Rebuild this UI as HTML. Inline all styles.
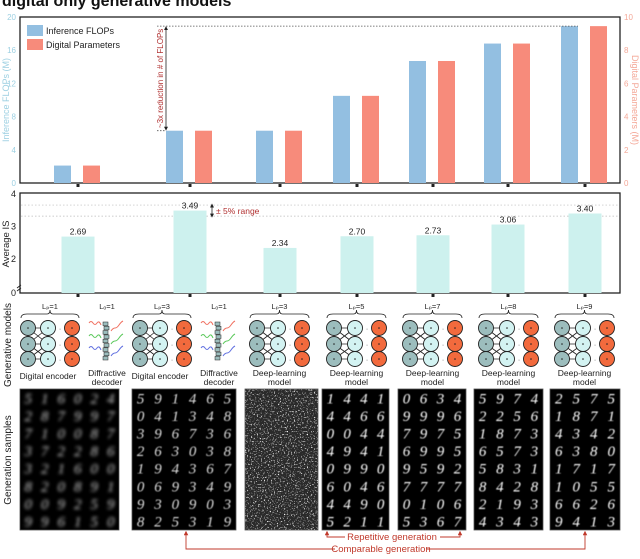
<!DOCTYPE html>
<html><head><meta charset="utf-8"><style>
html,body{margin:0;padding:0;background:#fff;width:640px;height:559px;overflow:hidden}
svg{display:block;font-family:"Liberation Sans",sans-serif}
</style></head><body>
<svg id="fig" width="640" height="559" viewBox="0 0 640 559">
<defs>
<filter id="blur1"><feGaussianBlur stdDeviation="1.6"/></filter>
<filter id="blur2"><feGaussianBlur stdDeviation="0.5"/></filter>
<filter id="noise" x="0" y="0" width="100%" height="100%"><feTurbulence type="fractalNoise" baseFrequency="0.7" numOctaves="2" seed="3"/><feColorMatrix type="matrix" values="0 0 0 0 1  0 0 0 0 1  0 0 0 0 1  0 0 0 5 -2.9"/></filter>
<marker id="ah" viewBox="0 0 10 10" refX="5" refY="5" markerWidth="5" markerHeight="5" orient="auto-start-reverse"><path d="M0,0 L10,5 L0,10 z" fill="#222"/></marker>
<marker id="ahr" viewBox="0 0 10 10" refX="5" refY="5" markerWidth="5" markerHeight="5" orient="auto-start-reverse"><path d="M0,0 L10,5 L0,10 z" fill="#c0392b"/></marker>
</defs>
<text x="2" y="6" font-size="16" font-weight="bold" fill="#111">digital only generative models</text>
<g id="topg"></g>
<g id="mid"></g>
<g id="bot"></g>
</svg>
<script>
const categories = ["Lp1-Lo1","Lp3-Lo1","DL-L3","DL-L5","DL-L7","DL-L8","DL-L9"];
const flops = [2.1, 6.3, 6.3, 10.5, 14.7, 16.8, 18.9];
const params = [1.05, 3.15, 3.15, 5.25, 7.35, 8.4, 9.45];
const isValues = [2.69, 3.49, 2.34, 2.70, 2.73, 3.06, 3.40];
const isLabels = ["2.69","3.49","2.34","2.70","2.73","3.06","3.40"];
const leftTicks = [0,4,8,12,16,20];
const rightTicks = [0,2,4,6,8,10];
const isTicks = [0,2,3,4];
const lpLabels = ["L\u209a=1","L\u209a=3","L\u209a=3","L\u209a=5","L\u209a=7","L\u209a=8","L\u209a=9"];

const NS="http://www.w3.org/2000/svg";
function mk(parent,tag,attrs,text){const e=document.createElementNS(NS,tag);for(const k in attrs)e.setAttribute(k,attrs[k]);if(text!==undefined)e.textContent=text;parent.appendChild(e);return e;}
const catX=[78,190,280,357,433,508,585];
const xC=i=>catX[i];
const Y0=183, YT=17;
const yL=v=>Y0-v*((Y0-YT)/20);
const yR=v=>Y0-v*((Y0-YT)/10);
const topG=document.getElementById('topg');
let e;
e=mk(topG,'rect',{x:20,y:YT,width:600,height:Y0-YT,fill:'none',stroke:'#222','stroke-width':1.3});

leftTicks.forEach(t=>{e=mk(topG,'text',{x:16,y:yL(t)+3,'font-size':8,fill:'#9dd0e2','text-anchor':'end'},t);
});
rightTicks.forEach(t=>{e=mk(topG,'text',{x:624,y:yR(t)+3,'font-size':8,fill:'#f4a898'},t);
});
e=mk(topG,'text',{x:0,y:0,'font-size':9,fill:'#9dd0e2','text-anchor':'middle',transform:'translate(9,100) rotate(-90)'},'Inference FLOPs (M)');

e=mk(topG,'text',{x:0,y:0,'font-size':9,fill:'#f4a898','text-anchor':'middle',transform:'translate(632,100) rotate(90)'},'Digital Parameters (M)');

categories.forEach((c,i)=>{
 e=mk(topG,'rect',{x:xC(i)-24,y:yL(flops[i]),width:17,height:Y0-yL(flops[i]),fill:'#93bfe1'});
 
 e=mk(topG,'rect',{x:xC(i)+5,y:yR(params[i]),width:17,height:Y0-yR(params[i]),fill:'#f78b7b'});
 
 e=mk(topG,'rect',{x:xC(i)-1.5,y:Y0+1,width:3,height:3,fill:'#222'});
 
});
e=mk(topG,'rect',{x:27,y:25,width:16,height:11,fill:'#93bfe1'});
e=mk(topG,'text',{x:46,y:34,'font-size':9,fill:'#222'},'Inference FLOPs');
e=mk(topG,'rect',{x:27,y:39,width:16,height:11,fill:'#f78b7b'});
e=mk(topG,'text',{x:46,y:48,'font-size':9,fill:'#222'},'Digital Parameters');
const yHi=yL(flops[6]), yLo=yL(flops[1]);
e=mk(topG,'line',{x1:157,y1:yHi,x2:xC(6)-7,y2:yHi,stroke:'#555','stroke-dasharray':'1.5,1.5','stroke-width':0.8});
e=mk(topG,'line',{x1:157,y1:yLo,x2:xC(1)-24,y2:yLo,stroke:'#555','stroke-dasharray':'1.5,1.5','stroke-width':0.8});
e=mk(topG,'line',{x1:166,y1:yHi+2,x2:166,y2:yLo-2,stroke:'#222','stroke-width':0.8,'marker-start':'url(#ah)','marker-end':'url(#ah)'});
e=mk(topG,'text',{x:0,y:0,'font-size':8,fill:'#b03030','text-anchor':'middle',transform:`translate(163,${(yHi+yLo)/2}) rotate(-90)`},'~3x reduction in # of FLOPs');

const mid=document.getElementById('mid');
const M0=293;
const yI=v=>v>=2?259-(v-2)*32.5:M0-(v)*17;
e=mk(mid,'rect',{x:20,y:193,width:600,height:M0-193,fill:'none',stroke:'#222','stroke-width':1.3});
[3.66,3.32].forEach(v=>{e=mk(mid,'line',{x1:21,x2:619,y1:yI(v),y2:yI(v),stroke:'#bbb','stroke-dasharray':'1.5,2','stroke-width':0.7});});
isTicks.forEach(t=>{e=mk(mid,'text',{x:16,y:(t===0?M0:yI(t))+3,'font-size':9,fill:'#222','text-anchor':'end'},t);});
e=mk(mid,'text',{x:0,y:0,'font-size':9.5,fill:'#222','text-anchor':'middle',transform:'translate(9,244) rotate(-90)'},'Average IS');
e=mk(mid,'path',{d:'M17,288 l4,-3 M17,291 l4,-3',stroke:'#222','stroke-width':0.9,fill:'none'});
categories.forEach((c,i)=>{
 const y=yI(isValues[i]);
 e=mk(mid,'rect',{x:xC(i)-16.5,y:y,width:33,height:M0-y,fill:'#cdf1ee'});
 e=mk(mid,'text',{x:xC(i),y:y-2,'font-size':8.5,fill:'#222','text-anchor':'middle'},isLabels[i]);
 e=mk(mid,'rect',{x:xC(i)-1.5,y:M0+1,width:3,height:3,fill:'#222'});
});
e=mk(mid,'line',{x1:212,y1:yI(3.66)+0.5,x2:212,y2:yI(3.32)-0.5,stroke:'#222','stroke-width':0.8,'marker-start':'url(#ah)','marker-end':'url(#ah)'});
e=mk(mid,'text',{x:216,y:214,'font-size':8.5,fill:'#b03030'},'\u00b1 5% range');

const bot=document.getElementById('bot');
const panels=[[20,119],[132,236],[245,318],[322,389],[398,466],[474,543],[550,620]];
const digits=[
 ["516024","287997","710087","372286","321600","820891","009259","996150"],
 ["591465","041348","396736","263038","194367","069349","930903","825319"],
 null,
 ["1441","4466","0044","4941","0990","6046","4490","5211"],
 ["0634","9996","7975","6995","9592","7777","0106","5367"],
 ["5974","2256","1873","6573","5831","8428","2193","4343"],
 ["2575","1871","4342","6380","1717","1055","6626","9413"]];
e=mk(bot,'text',{x:0,y:0,'font-size':10,fill:'#222','text-anchor':'middle',transform:'translate(11,345) rotate(-90)'},'Generative models');
e=mk(bot,'text',{x:0,y:0,'font-size':10,fill:'#222','text-anchor':'middle',transform:'translate(11,460) rotate(-90)'},'Generation samples');
panels.forEach((p,i)=>{
 const L=p[0],R=p[1],W=R-L;
 const hasDec=i<2;
 const cx=hasDec?[L+8,L+28,L+52]:[L+12,L+33,L+57];
 const g=mk(bot,'g',{});
 const rows=[328,344,359];
 for(let a=0;a<3;a++)for(let b=0;b<3;b++){if(Math.abs(a-b)<=1){e=mk(g,'line',{x1:cx[0],y1:rows[a],x2:cx[1],y2:rows[b],stroke:'#222','stroke-width':0.8});}}
 rows.forEach(y=>{
  [[0,'#9cbdbd'],[1,'#d3f3f2'],[2,'#f26a3d']].forEach(([k,f])=>{e=mk(g,'circle',{cx:cx[k],cy:y,r:7.5,fill:f,stroke:'#222','stroke-width':0.9});
   e=mk(g,'circle',{cx:cx[k],cy:y,r:0.8,fill:'#222'});});
  e=mk(g,'text',{x:(cx[1]+cx[2])/2,y:y+3,'font-size':7,fill:'#444','text-anchor':'middle'},'·');
 });
 const bx=(cx[0]+cx[2])/2;
 e=mk(g,'path',{d:`M${cx[0]-7},318 q0,-4 6,-4 L${bx-3},314 q3,0 3,-4 q0,4 3,4 L${cx[2]+1},314 q6,0 6,4`,fill:'none',stroke:'#222','stroke-width':0.8});
 e=mk(g,'text',{x:bx,y:309,'font-size':7.5,fill:'#222','text-anchor':'middle'},lpLabels[i]);
 if(hasDec){
  e=mk(g,'text',{x:cx[1],y:379,'font-size':8.5,fill:'#222','text-anchor':'middle'},'Digital encoder');
  const dx=L+83;
  for(let k=0;k<9;k++){e=mk(g,'rect',{x:dx+(k%2?1:0),y:322+k*4.3,width:5,height:3.6,fill:'#9cbdbd',stroke:'#222','stroke-width':0.5});}
  [['#f07060',327],['#5ac85a',340],['#6070e0',352]].forEach(([c,y])=>{
   e=mk(g,'path',{d:`M${dx-14},${y-4} q2,-3 4,0 t4,0 t4,2`,fill:'none',stroke:c,'stroke-width':1});
   e=mk(g,'path',{d:`M${dx+8},${y+4} q2,-3 4,-3 t4,-3 t4,-4`,fill:'none',stroke:c,'stroke-width':1});
  });
  e=mk(g,'text',{x:dx+4,y:309,'font-size':7.5,fill:'#222','text-anchor':'middle'},'L\u2092=1');
  e=mk(g,'text',{x:dx+4,y:376,'font-size':8.5,fill:'#222','text-anchor':'middle'},'Diffractive');
  e=mk(g,'text',{x:dx+4,y:385,'font-size':8.5,fill:'#222','text-anchor':'middle'},'decoder');
 } else {
  e=mk(g,'text',{x:bx,y:376,'font-size':8.5,fill:'#222','text-anchor':'middle'},'Deep-learning');
  e=mk(g,'text',{x:bx,y:385,'font-size':8.5,fill:'#222','text-anchor':'middle'},'model');
 }
 const sg=mk(bot,'g',{});
 e=mk(sg,'rect',{x:L,y:389,width:W,height:141,fill:i===2?'#2a2a2a':'#000',stroke:'#555','stroke-width':0.8});
 if(i===2){
  e=mk(sg,'rect',{x:L,y:389,width:W,height:141,filter:'url(#noise)',fill:'#fff'});
 } else {
  const rowsD=digits[i],cols=rowsD[0].length,cw=W/cols;
  const tg=mk(sg,'g',{filter:i===0?'url(#blur1)':'url(#blur2)'});
  rowsD.forEach((r,ri)=>{for(let c=0;c<cols;c++){e=mk(tg,'text',{x:L+cw*(c+0.5),y:389+17.6*(ri+0.5)+5.5,'font-size':15,'font-style':'italic',fill:i===0?'#ccc':(i===1?'#ddd':'#fff'),'text-anchor':'middle','font-family':'Liberation Serif, serif'},r[c]);}});
 }
});
const red='#c0392b';
e=mk(bot,'path',{d:'M327,533 L327,537 L345,537',fill:'none',stroke:red,'stroke-width':0.9,'marker-start':'url(#ahr)'});
e=mk(bot,'path',{d:'M440,537 L460,537 L460,533',fill:'none',stroke:red,'stroke-width':0.9,'marker-end':'url(#ahr)'});
e=mk(bot,'text',{x:392,y:540,'font-size':9.5,fill:red,'text-anchor':'middle'},'Repetitive generation');
e=mk(bot,'path',{d:'M186,533 L186,549 L335,549',fill:'none',stroke:red,'stroke-width':0.9,'marker-start':'url(#ahr)'});
e=mk(bot,'path',{d:'M427,549 L585,549 L585,533',fill:'none',stroke:red,'stroke-width':0.9,'marker-end':'url(#ahr)'});
e=mk(bot,'text',{x:381,y:552,'font-size':9.5,fill:red,'text-anchor':'middle'},'Comparable generation');
</script>
</body></html>
